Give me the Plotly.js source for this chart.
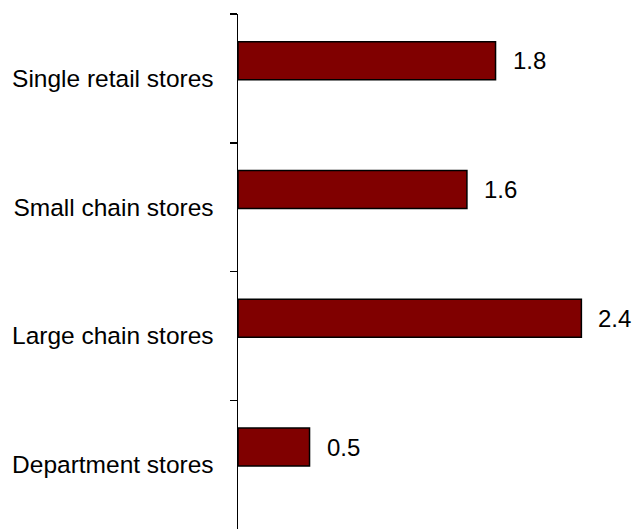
<!DOCTYPE html>
<html>
<head>
<meta charset="utf-8">
<script src="https://cdn.plot.ly/plotly-3.0.1.min.js"></script>
<style>html,body{margin:0;padding:0;background:#fff;}#chart{width:634px;height:529px;}</style>
</head>
<body>
<div id="chart"></div>
<script>
const categories = ["Single retail stores", "Small chain stores", "Large chain stores", "Department stores"];
const values = [1.8, 1.6, 2.4, 0.5];
const valueLabels = ["1.8", "1.6", "2.4", "0.5"];

const trace = {
  type: "bar",
  orientation: "h",
  y: categories,
  x: values,
  width: 0.295,
  offset: -0.2835,
  marker: { color: "#800000", line: { color: "#000000", width: 1.5 } },
  hoverinfo: "none"
};

const annotations = categories.map((c, i) => ({
  x: values[i], y: c, xref: "x", yref: "y",
  text: valueLabels[i], showarrow: false,
  xanchor: "left", yanchor: "middle",
  xshift: 15, yshift: 17.5,
  font: { family: "Liberation Sans, Arial, sans-serif", size: 24, color: "#000" }
}));

const layout = {
  width: 634, height: 529,
  margin: { l: 238, r: 24, t: 14, b: 0, pad: 0 },
  paper_bgcolor: "#ffffff", plot_bgcolor: "#ffffff",
  showlegend: false,
  font: { family: "Liberation Sans, Arial, sans-serif", size: 24, color: "#000" },
  xaxis: { range: [0, 2.6], visible: false, fixedrange: true },
  yaxis: {
    type: "category",
    range: [3.5, -0.5],
    showline: true, linecolor: "#000", linewidth: 1.5,
    showgrid: false, zeroline: false,
    ticks: "outside", tickson: "boundaries", ticklen: 7, tickwidth: 1.5, tickcolor: "#000",
    ticklabelstandoff: 18,
    tickfont: { family: "Liberation Sans, Arial, sans-serif", size: 24.5, color: "#000" },
    fixedrange: true
  },
  annotations: annotations
};

Plotly.newPlot("chart", [trace], layout, { displayModeBar: false, staticPlot: true });
</script>
</body>
</html>
